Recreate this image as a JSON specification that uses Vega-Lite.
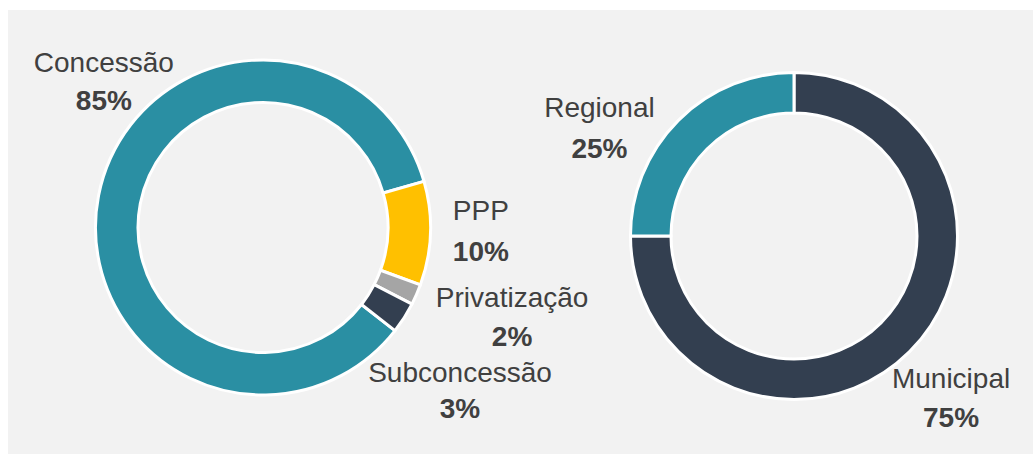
{
  "$schema": "https://vega.github.io/schema/vega-lite/v6.json",
  "width": 1025,
  "height": 444,
  "autosize": {"type": "none"},
  "padding": {"left": 8, "top": 10, "right": 0, "bottom": 1},
  "background": "#ffffff",
  "config": {
    "view": {"fill": "#f2f2f2", "stroke": null},
    "text": {"font": "Liberation Sans", "fontSize": 28, "color": "#404040", "baseline": "alphabetic", "align": "center"}
  },
  "data": {
    "values": [
      {"group": "Modalidade", "type": "Concessão", "share": 0.85},
      {"group": "Modalidade", "type": "PPP", "share": 0.10},
      {"group": "Modalidade", "type": "Privatização", "share": 0.02},
      {"group": "Modalidade", "type": "Subconcessão", "share": 0.03},
      {"group": "Abrangência", "type": "Municipal", "share": 0.75},
      {"group": "Abrangência", "type": "Regional", "share": 0.25}
    ]
  },
  "encoding": {
    "x": {"field": "group", "type": "nominal", "axis": null, "scale": {"type": "point", "domain": ["Modalidade", "Abrangência"], "range": [255, 786], "padding": 0}},
    "y": {"field": "group", "type": "nominal", "axis": null, "scale": {"type": "point", "domain": ["Modalidade", "Abrangência"], "range": [217.5, 226], "padding": 0}},
    "order": {"field": "type", "type": "nominal", "sort": "ascending"}
  },
  "layer": [
    {
      "transform": [{"filter": "datum.group === 'Modalidade'"}],
      "encoding": {
        "theta": {"field": "share", "type": "quantitative", "stack": true, "scale": {"domain": [0, 1], "range": [2.23402, 8.51721]}}
      },
      "layer": [
        {
          "mark": {"type": "arc", "outerRadius": 167.5, "innerRadius": 125, "stroke": "#ffffff", "strokeWidth": 3},
          "encoding": {
            "color": {"field": "type", "type": "nominal", "legend": null, "scale": {"domain": ["Concessão", "PPP", "Privatização", "Subconcessão", "Municipal", "Regional"], "range": ["#2A8FA3", "#FFC000", "#A5A5A5", "#333F50", "#333F50", "#2A8FA3"]}}
          }
        },
        {"mark": {"type": "text", "radius": 209, "dx": 46, "dy": -116}, "encoding": {"text": {"condition": {"test": "datum.type === 'Concessão'", "field": "type", "type": "nominal"}, "value": ""}}},
        {"mark": {"type": "text", "radius": 209, "dx": 46, "dy": -78, "fontWeight": "bold"}, "encoding": {"text": {"condition": {"test": "datum.type === 'Concessão'", "field": "share", "type": "quantitative", "format": ".0%"}, "value": ""}}},
        {"mark": {"type": "text", "radius": 218, "dx": 0, "dy": -15}, "encoding": {"text": {"condition": {"test": "datum.type === 'PPP'", "field": "type", "type": "nominal"}, "value": ""}}},
        {"mark": {"type": "text", "radius": 218, "dx": 0, "dy": 26, "fontWeight": "bold"}, "encoding": {"text": {"condition": {"test": "datum.type === 'PPP'", "field": "share", "type": "quantitative", "format": ".0%"}, "value": ""}}},
        {"mark": {"type": "text", "radius": 268, "dx": 3.5, "dy": -28}, "encoding": {"text": {"condition": {"test": "datum.type === 'Privatização'", "field": "type", "type": "nominal"}, "value": ""}}},
        {"mark": {"type": "text", "radius": 268, "dx": 3.5, "dy": 11, "fontWeight": "bold"}, "encoding": {"text": {"condition": {"test": "datum.type === 'Privatização'", "field": "share", "type": "quantitative", "format": ".0%"}, "value": ""}}},
        {"mark": {"type": "text", "radius": 262, "dx": -23.7, "dy": 13.3}, "encoding": {"text": {"condition": {"test": "datum.type === 'Subconcessão'", "field": "type", "type": "nominal"}, "value": ""}}},
        {"mark": {"type": "text", "radius": 262, "dx": -23.7, "dy": 49.3, "fontWeight": "bold"}, "encoding": {"text": {"condition": {"test": "datum.type === 'Subconcessão'", "field": "share", "type": "quantitative", "format": ".0%"}, "value": ""}}}
      ]
    },
    {
      "transform": [{"filter": "datum.group === 'Abrangência'"}],
      "encoding": {
        "theta": {"field": "share", "type": "quantitative", "stack": true, "scale": {"domain": [0, 1], "range": [0, 6.28319]}}
      },
      "layer": [
        {
          "mark": {"type": "arc", "outerRadius": 163.5, "innerRadius": 123, "stroke": "#ffffff", "strokeWidth": 3},
          "encoding": {
            "color": {"field": "type", "type": "nominal", "legend": null, "scale": {"domain": ["Concessão", "PPP", "Privatização", "Subconcessão", "Municipal", "Regional"], "range": ["#2A8FA3", "#FFC000", "#A5A5A5", "#333F50", "#333F50", "#2A8FA3"]}}
          }
        },
        {"mark": {"type": "text", "radius": 232, "dx": -7, "dy": -12}, "encoding": {"text": {"condition": {"test": "datum.type === 'Municipal'", "field": "type", "type": "nominal"}, "value": ""}}},
        {"mark": {"type": "text", "radius": 232, "dx": -7, "dy": 26.7, "fontWeight": "bold"}, "encoding": {"text": {"condition": {"test": "datum.type === 'Municipal'", "field": "share", "type": "quantitative", "format": ".0%"}, "value": ""}}},
        {"mark": {"type": "text", "radius": 218, "dx": -40.4, "dy": 35.1}, "encoding": {"text": {"condition": {"test": "datum.type === 'Regional'", "field": "type", "type": "nominal"}, "value": ""}}},
        {"mark": {"type": "text", "radius": 218, "dx": -40.4, "dy": 76.1, "fontWeight": "bold"}, "encoding": {"text": {"condition": {"test": "datum.type === 'Regional'", "field": "share", "type": "quantitative", "format": ".0%"}, "value": ""}}}
      ]
    }
  ],
  "resolve": {"scale": {"theta": "independent"}}
}
